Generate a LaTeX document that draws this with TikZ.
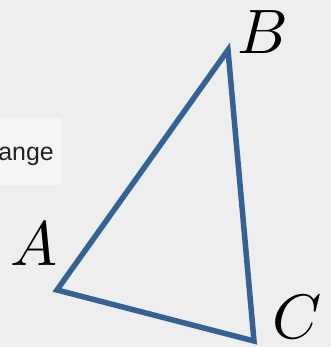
\documentclass[tikz,border=0pt]{standalone}
\usepackage{fontspec}
\newfontfamily\labelfont{Liberation Sans}
\usepackage{tikz}
\usetikzlibrary{positioning,calc}
\definecolor{triblue}{RGB}{52,98,148}
\definecolor{bggrey}{RGB}{238,238,238}
\definecolor{panelgrey}{RGB}{245,245,245}
\definecolor{textdark}{RGB}{34,34,34}

\begin{document}
\begin{tikzpicture}[x=1bp, y=1bp,
    vertex/.style={inner sep=0pt, scale=6.3},
    side/.style={draw=triblue, line width=5.5bp, line join=miter}
]
\fill[bggrey] (0,0) rectangle (331,347);
\useasboundingbox (0,0) rectangle (331,347);
% partly hidden panel on the left
\fill[panelgrey] (-10,162) rectangle (61,229);
\node[anchor=base east, inner sep=0pt, text=textdark, font=\labelfont\fontsize{25}{29}\selectfont] (panel) at (54,187) {ange};
% triangle
\coordinate (a) at (57,57);
\coordinate (b) at (228,297);
\coordinate (c) at (254,6);
\draw[side] (a) -- (b) -- (c) -- cycle;
\node[vertex] (la) at (34,103) {$A$};
\node[vertex] (lb) at (263,315) {$B$};
\node[vertex] (lc) at (297,30) {$C$};
\end{tikzpicture}
\end{document}
